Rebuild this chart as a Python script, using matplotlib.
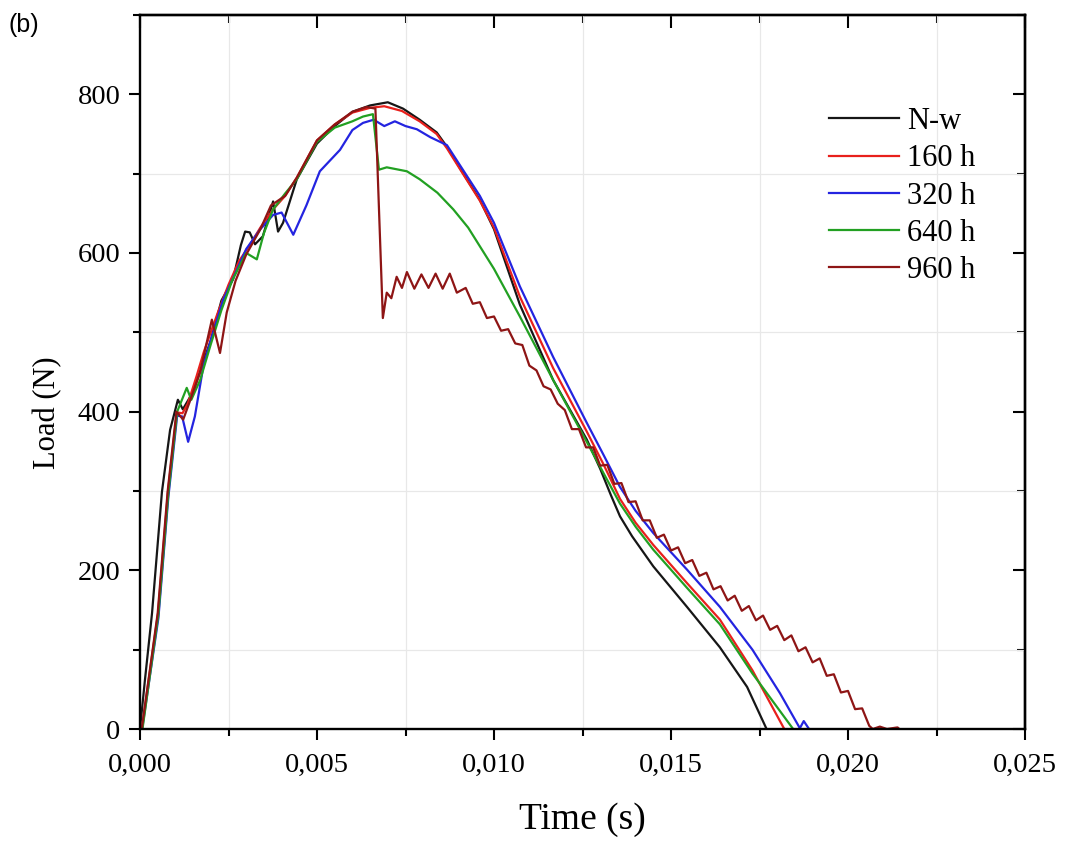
import numpy as np
import matplotlib
matplotlib.use("Agg")
import matplotlib.pyplot as plt
from matplotlib.ticker import MultipleLocator, FuncFormatter

# Time in milliseconds, load in newtons
nw_t = [0, 0.14, 0.34, 0.62, 0.85, 1.07, 1.21, 1.5, 2.0, 2.3, 2.63, 2.85, 2.97, 3.1, 3.25,
        3.47, 3.76, 3.9, 4.04, 4.43, 5.0, 5.5, 6.0, 6.5, 7.0, 7.43, 7.9, 8.38, 8.67, 9.12,
        9.6, 10.0, 10.73, 11.67, 12.62, 13.0, 13.3, 13.56, 13.9, 14.5, 15.45, 16.38,
        17.15, 17.7]
nw_L = [0, 62, 146, 299, 377, 415, 403, 425, 490, 540, 567, 610, 627, 626, 611,
        621, 665, 627, 638, 693, 738, 760, 778, 786, 790, 782, 768, 752, 734, 701,
        667, 630, 535, 440, 365, 328, 295, 268, 243, 205, 154, 103,
        53, 0]

h160_t = [0, 0.05, 0.51, 0.79, 1.04, 1.2, 1.35, 1.6, 1.8, 2.0, 2.2, 2.5, 2.8, 3.1, 3.4,
          3.76, 4.1, 4.43, 5.0, 5.5, 6.0, 6.5, 6.9, 7.4, 7.9, 8.38, 8.67, 9.12, 9.6, 10.0,
          10.73, 11.67, 12.62, 13.1, 13.56, 14.0, 14.5, 15.45, 16.38, 17.3, 18.2]
h160_L = [0, 0, 146, 299, 399, 398, 410, 445, 475, 500, 525, 560, 590, 610, 632,
          655, 672, 695, 742, 762, 777, 783, 785, 779, 766, 750, 732, 700, 666, 632,
          545, 455, 375, 333, 290, 260, 232, 184, 138, 74, 0]

h320_t = [0, 0.06, 0.52, 0.8, 1.05, 1.19, 1.36, 1.55, 1.8, 2.1, 2.35, 2.7, 3.0, 3.4,
          3.76, 4.0, 4.33, 4.7, 5.08, 5.65, 6.0, 6.3, 6.6, 6.9, 7.2, 7.5, 7.82, 8.2,
          8.67, 9.12, 9.6, 10.0, 10.73, 11.67, 12.62, 13.1, 13.56, 14.0, 14.5, 15.45,
          16.38, 17.3, 18.08, 18.64, 18.75, 18.9]
h320_L = [0, 0, 140, 292, 395, 394, 362, 394, 460, 505, 541, 575, 605, 630,
          648, 651, 623, 660, 703, 730, 755, 764, 768, 760, 766, 760, 756, 746,
          736, 705, 672, 638, 558, 469, 386, 345, 305, 275, 247, 201,
          154, 100, 45, 1, 10, 0]

h640_t = [0, 0.07, 0.52, 0.8, 1.05, 1.32, 1.45, 1.7, 2.0, 2.3, 2.6, 3.0, 3.3, 3.5,
          3.76, 4.1, 4.43, 5.0, 5.5, 6.0, 6.3, 6.58, 6.75, 6.97, 7.54, 7.9, 8.4, 8.85,
          9.27, 10.0, 10.73, 11.67, 12.62, 13.1, 13.56, 14.0, 14.5, 15.45, 16.38, 17.3,
          18.45]
h640_L = [0, 0, 145, 297, 400, 430, 415, 440, 485, 528, 565, 600, 592, 625,
          655, 675, 693, 740, 758, 766, 772, 775, 705, 708, 703, 693, 676, 655,
          632, 580, 520, 440, 362, 322, 284, 255, 226, 178, 132, 70,
          0]

h960_t = [0, 0.05, 0.5, 0.78, 1.03, 1.22, 1.4, 1.7, 1.95, 2.03, 2.26, 2.45, 2.7, 3.0,
          3.4, 3.7, 4.1, 4.43, 5.0, 5.5, 6.0, 6.4, 6.65, 6.86, 6.97, 7.1, 7.25, 7.4,
          7.54, 7.75, 7.95, 8.15, 8.35, 8.55, 8.75, 8.95, 9.2, 9.4, 9.6, 9.8, 10.0,
          10.2, 10.4, 10.6, 10.8, 11.0, 11.2, 11.4, 11.6, 11.8, 12.0, 12.2, 12.4,
          12.6, 12.8, 13.0, 13.2, 13.4, 13.6, 13.8, 14.0, 14.2, 14.4, 14.6, 14.8,
          15.0, 15.2, 15.4, 15.6, 15.8, 16.0, 16.2, 16.4, 16.6, 16.8, 17.0, 17.2,
          17.4, 17.6, 17.8, 18.0, 18.2, 18.4, 18.6, 18.8, 19.0, 19.2, 19.4, 19.6,
          19.8, 20.0, 20.2, 20.4, 20.6, 20.7, 20.9, 21.1, 21.4, 21.45]
h960_L = [0, 0, 146, 299, 400, 390, 412, 450, 500, 516, 474, 525, 565, 598,
          630, 660, 672, 695, 742, 762, 778, 784, 782, 518, 550, 543, 570, 556,
          576, 555, 573, 556, 574, 555, 574, 550, 556, 536, 538, 518, 520,
          502, 504, 486, 484, 458, 452, 432, 428, 410, 402, 378, 378,
          355, 355, 332, 333, 309, 310, 286, 287, 263, 263, 241, 245,
          225, 229, 209, 213, 193, 197, 176, 180, 162, 168, 149, 155,
          137, 143, 125, 130, 112, 118, 98, 103, 84, 89, 67, 69,
          46, 48, 25, 26, 4, 0, 3, 0, 2, 0]

series = [
    ("N-w", nw_t, nw_L, "#161616"),
    ("160 h", h160_t, h160_L, "#e8201c"),
    ("320 h", h320_t, h320_L, "#2424e0"),
    ("640 h", h640_t, h640_L, "#22a022"),
    ("960 h", h960_t, h960_L, "#8e1515"),
]

x_ticks = [0.000, 0.005, 0.010, 0.015, 0.020, 0.025]
y_ticks = [0, 200, 400, 600, 800]

serif = ["Liberation Serif", "DejaVu Serif"]

fig = plt.figure(figsize=(10.67, 8.46), dpi=100)
ax = fig.add_axes([140 / 1067, 1 - 729 / 846, 885 / 1067, 714 / 846])

for label, t, L, color in series:
    ax.plot(np.array(t) / 1000.0, L, color=color, lw=1.6, label=label)

ax.set_xlim(0, 0.025)
ax.set_ylim(0, 900)
ax.set_xticks(x_ticks)
ax.set_yticks(y_ticks)
ax.xaxis.set_minor_locator(MultipleLocator(0.0025))
ax.yaxis.set_minor_locator(MultipleLocator(100))
ax.xaxis.set_major_formatter(FuncFormatter(lambda v, p: f"{v:.3f}".replace(".", ",")))

ax.grid(which="minor", color="#e8e8e8", lw=0.9)
ax.grid(which="major", visible=False)
ax.set_axisbelow(True)

for s in ax.spines.values():
    s.set_linewidth(1.7)

ax.tick_params(which="both", width=1.5, labelsize=20.5)
ax.tick_params(axis="x", which="both", direction="out", top=False)
ax.tick_params(axis="y", which="both", direction="out", right=False)
ax.tick_params(which="major", length=8)
ax.tick_params(which="minor", length=5)
ax.tick_params(axis="x", which="major", pad=9)
ax.tick_params(axis="y", which="major", pad=6)
for lab in ax.get_xticklabels() + ax.get_yticklabels():
    lab.set_family(serif)

# inward ticks on the top and right edges
top = ax.secondary_xaxis("top")
top.set_xticks(x_ticks)
top.xaxis.set_minor_locator(MultipleLocator(0.0025))
top.tick_params(which="both", direction="in", width=1.5, labeltop=False)
top.tick_params(which="major", length=9)
top.tick_params(which="minor", length=6)
top.spines["top"].set_linewidth(1.7)
right = ax.secondary_yaxis("right")
right.set_yticks(y_ticks)
right.yaxis.set_minor_locator(MultipleLocator(100))
right.tick_params(which="both", direction="in", width=1.5, labelright=False)
right.tick_params(which="major", length=9)
right.tick_params(which="minor", length=6)
right.spines["right"].set_linewidth(1.7)

ax.set_xlabel("Time (s)", fontsize=27, family=serif, labelpad=18)
ax.set_ylabel("Load (N)", fontsize=22, family=serif)
ax.yaxis.set_label_coords(-0.088, 0.443)

ax.legend(loc="upper left", bbox_to_anchor=(829 / 1067, 1 - 107 / 846),
          bbox_transform=fig.transFigure, frameon=False, borderpad=0,
          borderaxespad=0, handlelength=2.3, handletextpad=0.25,
          labelspacing=0.27, prop={"family": serif, "size": 22})

fig.text(9 / 1067, 1 - 25 / 846, "(b)", fontsize=18, family="Liberation Sans",
         va="center", ha="left")

fig.savefig("out.png", dpi=100)
